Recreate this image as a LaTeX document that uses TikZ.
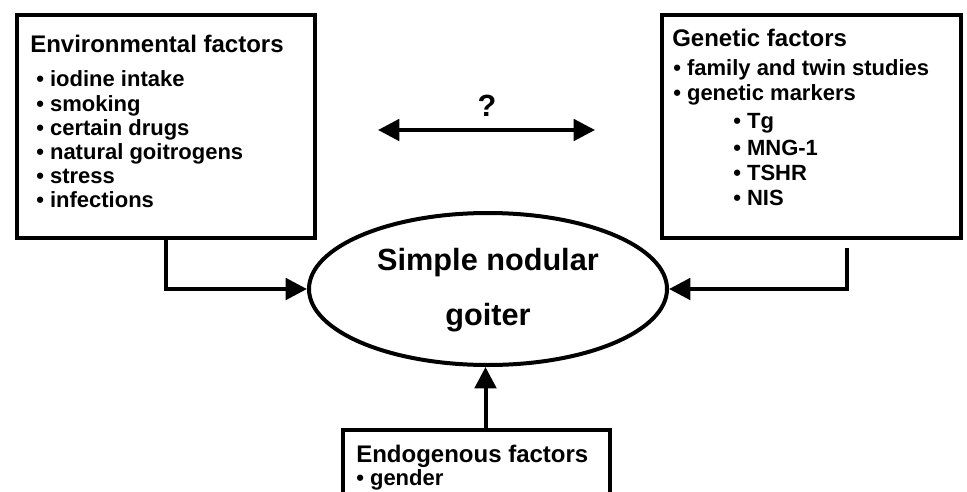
\documentclass[tikz,border=0pt]{standalone}
\usepackage{fontspec}
\setmainfont{Liberation Sans}
\usetikzlibrary{arrows.meta,shapes.geometric}
\begin{document}
\begin{tikzpicture}[x=0.75pt,y=-0.75pt,
  box/.style={draw,line width=3pt,rectangle,inner sep=0pt},
  oval/.style={draw,line width=3pt,ellipse,inner sep=0pt,minimum width=268.5pt,minimum height=114pt},
  ttl/.style={font=\fontsize{18}{20}\selectfont\bfseries,anchor=base west,inner sep=0pt},
  itm/.style={font=\fontsize{16.5}{18}\selectfont\bfseries,anchor=base west,inner sep=0pt},
  big/.style={font=\fontsize{23}{26}\selectfont\bfseries,anchor=base,inner sep=0pt},
  conn/.style={line width=3pt,-{Triangle[length=16pt,width=16pt]}},
  dconn/.style={line width=3pt,{Triangle[length=16pt,width=16pt]}-{Triangle[length=16pt,width=16pt]}}]
\clip (0,0) rectangle (967,492);
\useasboundingbox (0,0) rectangle (967,492);
% boxes
\node[box,minimum width=223.5pt,minimum height=167.25pt] (lbox) at (166,126.5) {};
\node[box,minimum width=224.25pt,minimum height=167.25pt] (rbox) at (811.5,126.5) {};
\node[box,minimum width=200.25pt,minimum height=82.5pt] (bbox) at (476.5,485) {};
\node[oval] (ell) at (488,289) {};
% left text
\node[ttl] (lt) at (30,53) {Environmental factors};
\node[itm] (l1) at (36,87) {• iodine intake};
\node[itm] (l2) at (36,111) {• smoking};
\node[itm] (l3) at (36,135) {• certain drugs};
\node[itm] (l4) at (36,159) {• natural goitrogens};
\node[itm] (l5) at (36,183) {• stress};
\node[itm] (l6) at (36,207) {• infections};
% right text
\node[ttl] (rt) at (672,47) {Genetic factors};
\node[itm] (r1) at (673,76) {• family and twin studies};
\node[itm] (r2) at (673,100) {• genetic markers};
\node[itm] (r3) at (733,128) {• Tg};
\node[itm] (r4) at (733,155) {• MNG-1};
\node[itm] (r5) at (733,180) {• TSHR};
\node[itm] (r6) at (733,205) {• NIS};
% bottom text
\node[ttl] (bt) at (356,462) {Endogenous factors};
\node[itm] (b1) at (356,485) {• gender};
% ellipse text
\node[big] (e1) at (488,270) {Simple nodular};
\node[big] (e2) at (488,325) {goiter};
% question
\node[big] (q) at (487,117) {?};
\coordinate (qa) at (378,130);
\coordinate (qb) at (595,130);
\draw[dconn] (qa) -- (qb);
% connectors
\draw[conn] (lbox.south) |- (ell.west);
\draw[conn] ([xshift=26.6pt,yshift=-6pt]rbox.south) |- (ell.east);
\draw[conn] ([xshift=6.75pt]bbox.north) -- ([xshift=6.75pt]bbox.north |- ell.south);
\end{tikzpicture}
\end{document}
